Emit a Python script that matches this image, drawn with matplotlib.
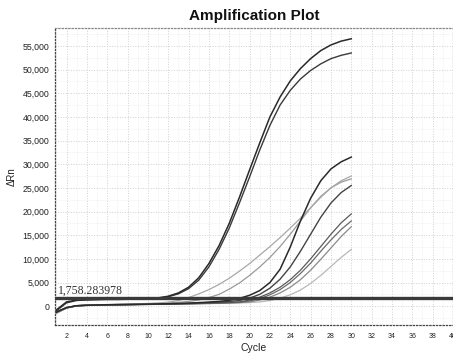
import matplotlib
matplotlib.use("Agg")
import matplotlib.pyplot as plt
from matplotlib.ticker import FuncFormatter, MultipleLocator

plt.rcParams['font.family'] = ['Liberation Sans', 'DejaVu Sans']

cycles = list(range(1, 31))

curve_a = [-800, 900, 1300, 1400, 1450, 1500, 1500, 1500, 1550, 1600, 1750, 2100, 2800, 4000, 6000,
           9000, 12800, 17500, 23000, 28800, 34500, 40000, 44200, 47600, 50200, 52300, 54000, 55200, 56000, 56500]
curve_b = [-1000, 700, 1200, 1300, 1350, 1400, 1400, 1450, 1500, 1550, 1700, 2000, 2600, 3700, 5500,
           8300, 12000, 16500, 21800, 27300, 33000, 38200, 42500, 45600, 48000, 49800, 51200, 52300, 53000, 53500]
curve_c1 = [-1300, -300, 100, 200, 250, 300, 330, 360, 400, 430, 470, 520, 580, 650, 750,
            870, 1000, 1250, 1650, 2300, 3300, 5000, 7800, 12500, 18000, 22800, 26500, 29000, 30500, 31500]
curve_c2 = [-1500, -400, 100, 250, 300, 350, 400, 450, 500, 580, 680, 850, 1200, 1800, 2600,
            3500, 4600, 5900, 7400, 9000, 10800, 12600, 14500, 16500, 18600, 20800, 23000, 25000, 26500, 27500]
curve_c3 = [-1400, -350, 100, 220, 280, 320, 360, 400, 450, 500, 570, 680, 820, 1000, 1300,
            1800, 2500, 3600, 4900, 6500, 8300, 10300, 12600, 15200, 18000, 20800, 23200, 25000, 26200, 26900]
curve_c4 = [-1200, -300, 100, 200, 250, 300, 330, 360, 390, 420, 450, 490, 540, 600, 680,
            760, 860, 980, 1200, 1700, 2500, 3800, 5700, 8300, 11600, 15200, 18800, 21800, 24000, 25500]
curve_c5 = [-1300, -350, 80, 180, 230, 270, 300, 330, 360, 390, 420, 450, 490, 540, 600,
            660, 720, 800, 900, 1300, 1900, 2800, 4000, 5600, 7600, 10000, 12600, 15200, 17600, 19500]
curve_c6 = [-1500, -400, 50, 150, 200, 240, 270, 300, 330, 360, 390, 420, 460, 500, 550,
            600, 650, 720, 800, 1100, 1600, 2400, 3500, 5000, 6900, 9100, 11600, 14000, 16200, 18000]
curve_c7 = [-1400, -380, 60, 160, 210, 250, 280, 310, 340, 370, 400, 430, 460, 500, 540,
            580, 630, 690, 760, 900, 1300, 1900, 2800, 4000, 5600, 7600, 9900, 12300, 14700, 16800]
curve_c8 = [-1200, -300, 100, 200, 240, 270, 300, 320, 340, 360, 380, 400, 430, 460, 500,
            540, 580, 630, 690, 760, 900, 1200, 1700, 2400, 3400, 4800, 6500, 8400, 10300, 12000]

series = [
    (curve_c8, '#b8b8b8', 0.9),
    (curve_c7, '#8a8a8a', 0.9),
    (curve_c6, '#6a6a6a', 0.9),
    (curve_c5, '#5a5a5a', 0.9),
    (curve_c3, '#9a9a9a', 0.9),
    (curve_c2, '#a8a8a8', 0.9),
    (curve_c4, '#444444', 1.0),
    (curve_c1, '#2a2a2a', 1.1),
    (curve_b, '#3a3a3a', 1.0),
    (curve_a, '#2a2a2a', 1.1),
]

threshold = 1758.283978
threshold_label = "1,758.283978"
x_ticks = list(range(2, 41, 2))
y_ticks = list(range(0, 55001, 5000))

fig = plt.figure(figsize=(4.53, 3.53), dpi=100)
ax = fig.add_axes([0.121, 0.079, 0.879, 0.842])

for vals, col, lw in series:
    ax.plot(cycles, vals, color=col, lw=lw, zorder=3)

ax.axhline(threshold, color='#3a3a3a', lw=2.4, zorder=4)
ax.text(1.15, threshold + 250, threshold_label, family=['Liberation Serif', 'DejaVu Serif'],
        fontsize=8.5, color='#333333', va='bottom', ha='left', zorder=5)

ax.set_xlim(0.85, 40.0)
ax.set_ylim(-4000, 58800)
ax.set_xticks(x_ticks)
ax.set_yticks(y_ticks)
ax.yaxis.set_major_formatter(FuncFormatter(lambda v, p: f"{int(v):,}"))
ax.xaxis.set_minor_locator(MultipleLocator(1))
ax.yaxis.set_minor_locator(MultipleLocator(2500))
ax.grid(which='major', color='#d0d0d0', linestyle=':', lw=0.7)
ax.grid(which='minor', color='#e6e6e6', linestyle=':', lw=0.5)
ax.tick_params(axis='x', labelsize=5, length=0, pad=6, colors='#222222')
ax.tick_params(axis='y', labelsize=6.3, length=0, pad=4, colors='#222222')
ax.tick_params(which='minor', length=0)
for s in ax.spines.values():
    s.set_linestyle(':')
    s.set_color('#888888')
    s.set_linewidth(0.9)
ax.spines['left'].set_color('#444444')
ax.spines['bottom'].set_color('#444444')

ax.set_title("Amplification Plot", fontsize=11, fontweight='bold', pad=6, color='#111111')
ax.set_xlabel("Cycle", fontsize=7.5, labelpad=2, color='#222222')
ax.set_ylabel("ΔRn", fontsize=7, labelpad=4, color='#222222')

fig.savefig("out.png", dpi=100)
